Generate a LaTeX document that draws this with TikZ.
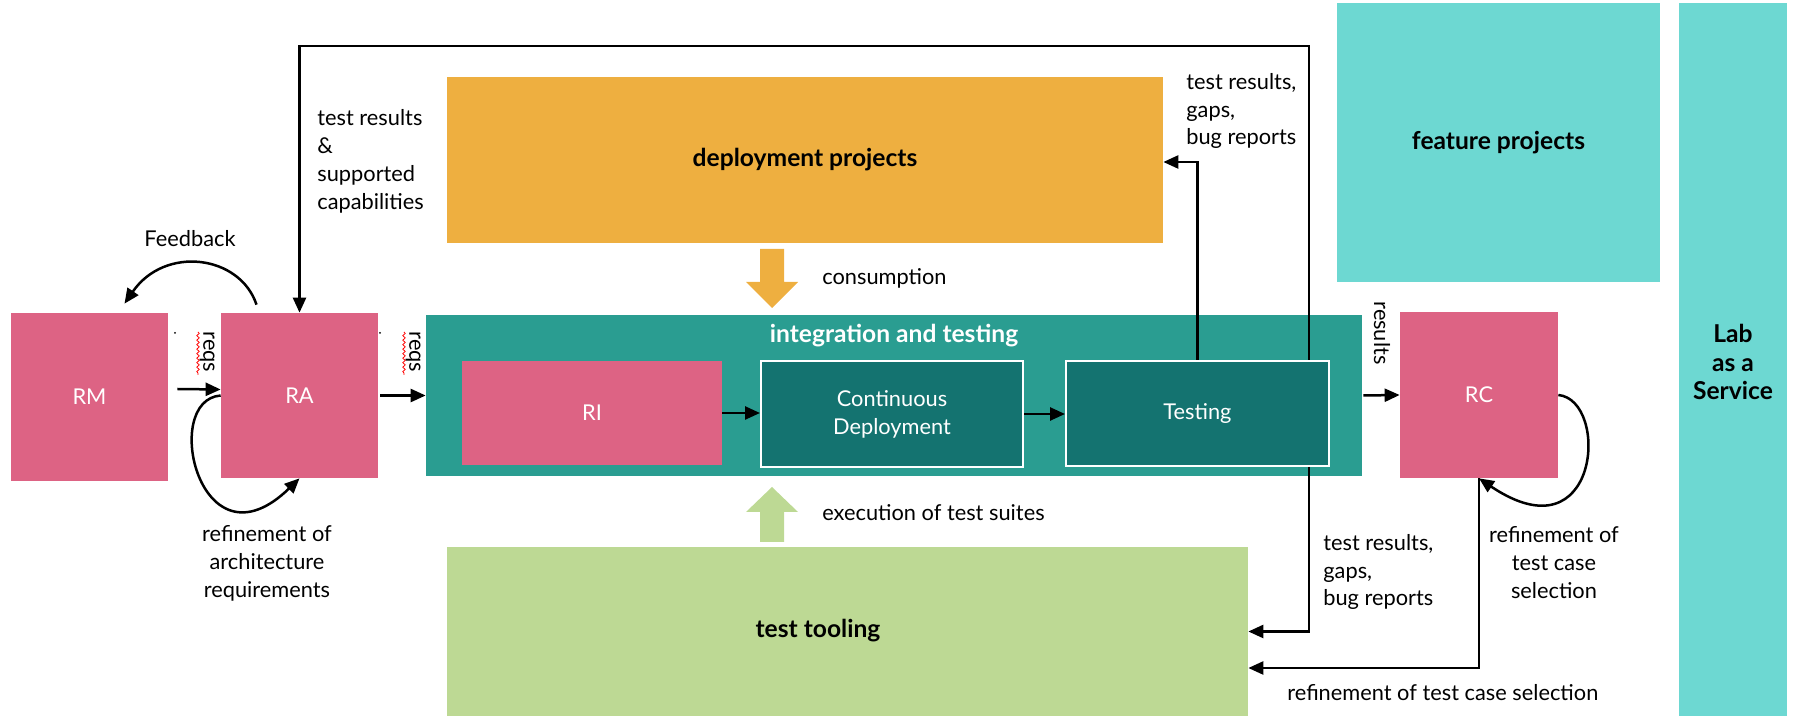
\documentclass[tikz,border=0pt]{standalone}
\usepackage{fontspec}
\setmainfont{Lato}
\usetikzlibrary{arrows.meta}
\usetikzlibrary{decorations.pathmorphing}
\newcommand*{\px}{0.2mm}
\definecolor{rose}{HTML}{DD6384}
\definecolor{tealout}{HTML}{2A9D91}
\definecolor{tealin}{HTML}{147370}
\definecolor{amber}{HTML}{EEAF40}
\definecolor{leaf}{HTML}{BDD994}
\definecolor{aqua}{HTML}{6DD8D2}

\begin{document}
\begin{tikzpicture}[x=\px, y=-\px, font=\fontsize{12.4}{15.9}\selectfont,
        box/.style={inner sep=0pt, text=white, align=center},
        head/.style={inner sep=0pt, align=center, font=\fontsize{14}{16.5}\selectfont\bfseries},
        lbl/.style={inner sep=0pt, align=left},
        arr/.style={line width=0.5mm, -{Triangle[length=3mm,width=2.6mm]}},
        squig/.style={red, line width=0.15mm, decorate, decoration={snake, amplitude=0.25mm, segment length=0.9mm}}]
    \useasboundingbox (0,0) rectangle (1796,716);
    % side areas
        \node [box, fill=amber, text=black, font=\fontsize{14}{16.5}\selectfont\bfseries, minimum width=716*\px, minimum height=166*\px] (deploy) at (805,160) {deployment projects};
        \node [box, fill=leaf, minimum width=801*\px, minimum height=169*\px] (tooling) at (847.5,631.5) {};
        \node [head] at (818,631) {test tooling};
        \node [box, fill=aqua, text=black, font=\fontsize{14}{16.5}\selectfont\bfseries, minimum width=323*\px, minimum height=279*\px] (feature) at (1498.5,142.5) {feature projects};
        \node [box, fill=aqua, minimum width=108*\px, minimum height=713*\px] (laas) at (1733,359.5) {};
        \node [head, font=\fontsize{14}{16.3}\selectfont\bfseries] at (1733,362) {Lab\\as a\\Service};
    % requirement boxes
        \node [box, fill=rose, minimum width=157*\px, minimum height=168*\px] (rm) at (89.5,397) {RM};
        \node [box, fill=rose, minimum width=157*\px, minimum height=165*\px] (ra) at (299.5,395.5) {RA};
        \node [box, fill=rose, minimum width=158*\px, minimum height=166*\px] (rc) at (1479,395) {RC};
    % integration and testing
        \node [box, fill=tealout, minimum width=936*\px, minimum height=161*\px] (integ) at (894,395.5) {};
        \node [head, text=white] at (894,336) {integration and testing};
        \node [box, fill=rose, minimum width=260*\px, minimum height=104*\px] (ri) at (592,413) {RI};
        \node [box, fill=tealin, draw=white, line width=0.4mm, minimum width=262*\px, minimum height=106*\px] (cd) at (892,414) {Continuous\\Deployment};
        \node [box, fill=tealin, draw=white, line width=0.4mm, minimum width=263*\px, minimum height=105*\px] (testing) at (1197.5,413.5) {Testing};
    % block arrows
        \fill [amber] (760,249) -- (784,249) -- (784,282) -- (798,282) -- (772,308) -- (746,282) -- (760,282) -- cycle;
        \fill [leaf]  (760,542) -- (784,542) -- (784,512) -- (798,512) -- (772,487) -- (746,512) -- (760,512) -- cycle;
        \node [lbl, anchor=west] at (822,278) {consumption};
        \node [lbl, anchor=west] at (822,513) {execution of test suites};
    % connectors
        \draw [arr] ([shift={(9,-8)}]rm.east) -- ([shift={(0,-6)}]ra.west);
        \draw [arr] ([shift={(2,0)}]ra.east) -- (integ.west |- ra.east);
        \draw [arr] (ri.east) -- (cd.west |- ri.east);
        \draw [arr] (cd.east) -- (testing.west |- cd.east);
        \draw [arr] ([shift={(1,0)}]integ.east) -- (rc.west);
        \draw [arr] ([shift={(-21,0)}]testing.north east) -- ++(0,-314) -| (ra.north);
        \draw [arr] (testing.north) |- ([shift={(0,2)}]deploy.east);
        \draw [arr] ([shift={(-21,0)}]testing.south east) |- (tooling.east);
        \draw [arr] (rc.south) |- ([shift={(0,36.5)}]tooling.east);
        \draw [arr] ([shift={(-43,-8)}]ra.north) .. controls (240,255) and (165,245) .. ([shift={(35,-9)}]rm.north);
        \draw [arr] (ra.west) .. controls (160,400) and (200,575) .. (ra.south);
        \draw [arr] (rc.east) .. controls (1610,400) and (1600,560) .. (rc.south);
    % labels
        \node at (190,239) {Feedback};
        \node [lbl, anchor=west] at (317,161) {test results\\\&\\supported\\capabilities};
        \node [lbl, anchor=west] at (1186,111) {test results,\\gaps,\\bug reports};
        \node [lbl, anchor=west] at (1323,572) {test results,\\gaps,\\bug reports};
        \node [lbl, align=center] at (267,563) {refinement of\\architecture\\requirements};
        \node [lbl, align=center] at (1554,563) {refinement of\\test case\\selection};
        \node [lbl, anchor=west] at (1287,693) {refinement of test case selection};
        \node [lbl, rotate=-90] at (207,352) {reqs};
        \node [lbl, rotate=-90] at (413,352) {reqs};
        \node [lbl, rotate=-90] at (1382,333) {results};
        \draw [squig] (198,332) -- (198,375);
        \draw [squig] (404,332) -- (404,375);
        \fill (175,333) circle (1);
        \fill (380,333) circle (1);
\end{tikzpicture}
\end{document}
